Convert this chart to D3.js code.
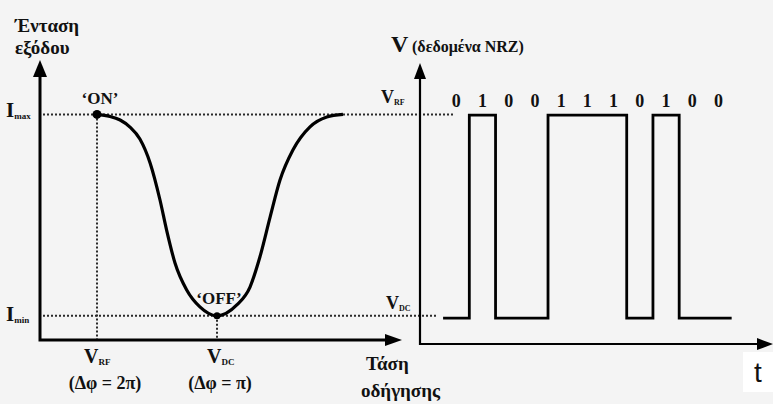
<!DOCTYPE html>
<html>
<head>
<meta charset="utf-8">
<script src="https://cdn.jsdelivr.net/npm/d3@7"></script>
<style>
  html, body { margin: 0; padding: 0; background: #f4f4f4; }
  svg { display: block; }
</style>
</head>
<body>
<svg id="chart" width="773" height="404"></svg>
<script>
// transfer curve of the modulator (drive voltage vs output intensity)
const driveV    = [1.99, 2.43, 2.77, 3.10, 3.43, 3.77, 4.10, 4.32, 4.60, 4.99, 5.43, 5.99, 6.66, 7.10, 7.43, 7.77, 8.10, 8.53, 9.10, 9.66, 10.2];
const intensity = [1.00, 0.99, 0.972, 0.937, 0.878, 0.759, 0.575, 0.426, 0.262, 0.128, 0.044, 0.0, 0.054, 0.143, 0.292, 0.49, 0.674, 0.823, 0.938, 0.987, 1.0];

// operating points
const onPoint  = {v: 2, i: 1};   // V_RF
const offPoint = {v: 6, i: 0};   // V_DC

// NRZ data bits
const bits = [0, 1, 0, 0, 1, 1, 1, 0, 1, 0, 0];

const serif = "'Liberation Serif', 'Times New Roman', Times, serif";
const svg = d3.select("#chart");

// ---------- left panel : intensity vs drive voltage ----------
const xDrive = d3.scaleLinear().domain([0.1, 12.1]).range([40, 400]);
const yInt   = d3.scaleLinear().domain([-0.12, 1.27]).range([340, 60]);

function dotLine(x1, y1, x2, y2) {
  svg.append("line")
    .attr("x1", x1).attr("y1", y1).attr("x2", x2).attr("y2", y2)
    .attr("stroke", "#2a2a2a")
    .attr("stroke-width", 2)
    .attr("stroke-dasharray", "2,2");
}

// ---------- right panel : NRZ voltage vs time ----------
const tScale = d3.scaleLinear().domain([-0.88, 12.5]).range([420, 771]);
const vScale = d3.scaleLinear().domain([-0.128, 1.257]).range([344, 63]);

// guide lines (I_max / V_RF and I_min / V_DC run across both panels)
dotLine(43, yInt(1), 455, yInt(1));
dotLine(43, yInt(0), 212, yInt(0));
dotLine(222, yInt(0), 436, yInt(0));
dotLine(xDrive(onPoint.v), yInt(1), xDrive(onPoint.v), yInt(-0.12));
dotLine(xDrive(offPoint.v), yInt(0), xDrive(offPoint.v), yInt(-0.12));

// axes of left panel
const x0 = xDrive.range()[0], xEnd = xDrive.range()[1];
const yBase = yInt.range()[0], yTop = yInt.range()[1];
svg.append("path")
  .attr("d", `M${x0},${yTop + 14}V${yBase}H${xEnd - 12}`)
  .attr("fill", "none").attr("stroke", "#000").attr("stroke-width", 3);
svg.append("path")
  .attr("d", `M${x0},${yTop}L${x0 - 7},${yTop + 17}L${x0 + 7},${yTop + 17}Z`)
  .attr("fill", "#000");
svg.append("path")
  .attr("d", `M${xEnd + 2},${yBase}L${xEnd - 15},${yBase - 6}L${xEnd - 15},${yBase + 6}Z`)
  .attr("fill", "#000");

// transfer curve
const curvePts = driveV.map((v, k) => [v, intensity[k]]);
svg.append("path")
  .datum(curvePts)
  .attr("d", d3.line()
    .x(d => xDrive(d[0]))
    .y(d => yInt(d[1]))
    .curve(d3.curveMonotoneX))
  .attr("fill", "none").attr("stroke", "#000").attr("stroke-width", 3.2);

svg.append("circle").attr("cx", xDrive(onPoint.v)).attr("cy", yInt(onPoint.i)).attr("r", 4.5).attr("fill", "#000");
svg.append("circle").attr("cx", xDrive(offPoint.v)).attr("cy", yInt(offPoint.i)).attr("r", 3.5).attr("fill", "#000");

// axes of right panel
const tx0 = tScale.range()[0], txEnd = tScale.range()[1];
const vBase = vScale.range()[0], vTop = vScale.range()[1];
svg.append("path")
  .attr("d", `M${tx0},${vTop + 14}V${vBase}H${txEnd - 12}`)
  .attr("fill", "none").attr("stroke", "#000").attr("stroke-width", 2.2);
svg.append("path")
  .attr("d", `M${tx0},${vTop}L${tx0 - 6},${vTop + 16}L${tx0 + 6},${vTop + 16}Z`)
  .attr("fill", "#000");
svg.append("path")
  .attr("d", `M${txEnd + 2},${vBase}L${txEnd - 14},${vBase - 6}L${txEnd - 14},${vBase + 6}Z`)
  .attr("fill", "#000");

// NRZ waveform
const stepPts = bits.map((b, k) => [k, b]).concat([[bits.length, bits[bits.length - 1]]]);
svg.append("path")
  .datum(stepPts)
  .attr("d", d3.line()
    .x(d => tScale(d[0]))
    .y(d => vScale(d[1]))
    .curve(d3.curveStepAfter))
  .attr("fill", "none").attr("stroke", "#000").attr("stroke-width", 2.8);

// bit labels
svg.selectAll("text.bit")
  .data(bits)
  .enter().append("text")
  .attr("class", "bit")
  .attr("x", (b, k) => tScale(k + 0.5))
  .attr("y", 107)
  .attr("text-anchor", "middle")
  .attr("font-family", serif)
  .attr("font-weight", "bold")
  .attr("font-size", 18)
  .attr("fill", "#111")
  .text(b => b);

// ---------- text ----------
function label(x, y, size, main, sub, subSize, anchor) {
  const t = svg.append("text").attr("x", x).attr("y", y)
    .attr("font-family", serif).attr("font-weight", "bold").attr("fill", "#111")
    .attr("font-size", size)
    .attr("text-anchor", anchor || "start");
  t.append("tspan").text(main);
  if (sub) t.append("tspan").attr("font-size", subSize).attr("dy", 2).text(sub);
  return t;
}

label(15, 32, 19, "Ένταση");
label(15, 54, 19, "εξόδου");
label(6, 117, 21, "I", "max", 9);
label(6, 321, 21, "I", "min", 9);
label(100, 104, 17, "‘ON’", null, null, "middle");
label(219, 304, 17, "‘OFF’", null, null, "middle");
label(84, 363, 20, "V", "RF", 9);
label(105, 389, 18, "(Δφ = 2π)", null, null, "middle");
label(207, 363, 20, "V", "DC", 9);
label(220, 389, 18, "(Δφ = π)", null, null, "middle");
label(366, 370, 19, "Τάση");
label(361, 397, 19, "οδήγησης");

label(391, 52, 24, "V");
label(412, 52, 16, "(δεδομένα NRZ)");
label(381, 103, 18, "V", "RF", 8);
label(386, 309, 18, "V", "DC", 8);

svg.append("rect").attr("x", 743).attr("y", 352).attr("width", 30).attr("height", 40).attr("fill", "#fff");
svg.append("text")
  .attr("x", 754).attr("y", 382)
  .attr("font-family", "'Liberation Sans', Arial, sans-serif")
  .attr("font-size", 28)
  .attr("fill", "#111")
  .text("t");
</script>
</body>
</html>
